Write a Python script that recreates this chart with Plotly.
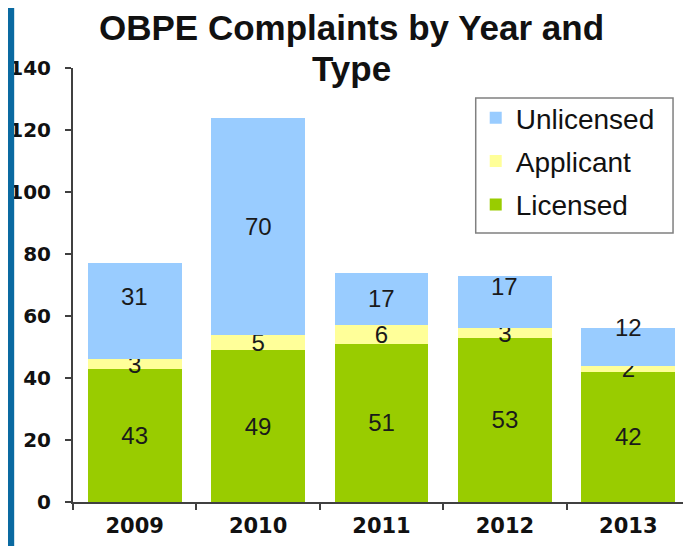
import plotly.graph_objects as go

years = ['2009', '2010', '2011', '2012', '2013']
licensed = [43, 49, 51, 53, 42]
applicant = [3, 5, 6, 3, 2]
unlicensed = [31, 70, 17, 17, 12]

y_ticks = [0, 20, 40, 60, 80, 100, 120, 140]

ARIAL = 'Liberation Sans, Arial, sans-serif'
WIDE = 'DejaVu Sans, Verdana, sans-serif'

# page body has an 8px margin, so the figure is a bit smaller than the window
W, H = 683, 538
L, R, T, B = 63, 1, 60, 44
PW = W - L - R

fig = go.Figure()

series = [
    ('Licensed', licensed, '#99CC00', 3, True),
    ('Applicant', applicant, '#FFFF99', 2, True),
    ('Unlicensed', unlicensed, '#99CCFF', 1, False),
]

for name, values, color, rank, with_text in series:
    fig.add_trace(go.Bar(
        x=years,
        y=values,
        name=name,
        legendgroup=name,
        legendrank=rank,
        marker=dict(color=color, line=dict(width=0)),
        text=[str(v) for v in values] if with_text else None,
        textposition='inside',
        insidetextanchor='middle',
        textangle=0,
        constraintext='none',
        textfont=dict(family=ARIAL, size=24, color='#1a1a1a'),
    ))

# unlicensed labels sit a little above the middle of their segment in the original
# (x given as category index: numeric-looking strings would be read as indices)
label_lift = [15, 0, 0, 16, 20]
for i in range(len(years)):
    base = licensed[i] + applicant[i]
    fig.add_annotation(
        x=i, y=base + unlicensed[i] / 2, xref='x', yref='y',
        text=str(unlicensed[i]), showarrow=False, yshift=label_lift[i],
        font=dict(family=ARIAL, size=24, color='#1a1a1a'),
    )

fig.update_layout(
    barmode='stack',
    bargap=0.24,
    width=W,
    height=H,
    margin=dict(l=L, r=R, t=T, b=B),
    paper_bgcolor='white',
    plot_bgcolor='white',
    showlegend=True,
    legend=dict(
        x=0.6527, y=0.9425,
        xanchor='left', yanchor='top',
        traceorder='grouped',
        tracegroupgap=4,
        borderwidth=0,
        bgcolor='rgba(0,0,0,0)',
        font=dict(family=ARIAL, size=28, color='#111111'),
    ),
    xaxis=dict(
        type='category',
        categoryorder='array',
        categoryarray=years,
        showline=True,
        linecolor='#404040',
        linewidth=2,
        ticks='outside',
        tickson='boundaries',
        ticklen=6,
        tickwidth=2,
        tickcolor='#404040',
        ticklabelstandoff=4,
        tickfont=dict(family=WIDE, size=21, color='#111111', weight='bold'),
        showgrid=False,
    ),
    yaxis=dict(
        range=[0, 140],
        tickvals=y_ticks,
        showline=True,
        linecolor='#404040',
        linewidth=2,
        ticks='outside',
        ticklen=6,
        tickwidth=2,
        tickcolor='#404040',
        ticklabelstandoff=10,
        tickfont=dict(family=WIDE, size=20, color='#111111', weight='bold'),
        showgrid=False,
        zeroline=False,
    ),
)

# legend frame, a bit wider than plotly's own box
fig.add_shape(type='rect', xref='paper', yref='paper',
              x0=0.6527, x1=0.9725, y0=0.6198, y1=0.931,
              fillcolor='white', line=dict(color='#808080', width=1.5), layer='above')

fig.add_annotation(text='<b>OBPE Complaints by Year and</b>', x=0.4507, y=1.0, xref='paper', yref='paper',
                   yshift=41, showarrow=False, xanchor='center', yanchor='middle',
                   font=dict(family=ARIAL, size=35, color='#111111'))
fig.add_annotation(text='<b>Type</b>', x=0.4507, y=1.0, xref='paper', yref='paper',
                   yshift=0, showarrow=False, xanchor='center', yanchor='middle',
                   font=dict(family=ARIAL, size=35, color='#111111'))

# blue frame edge on the left of the slide
fig.add_shape(type='rect', xref='paper', yref='paper',
              x0=-0.2, x1=-(L - 4) / PW, y0=-0.2, y1=1.3,
              fillcolor='#0A6AA1', line=dict(width=0), layer='above')

fig.write_html('out.html')
